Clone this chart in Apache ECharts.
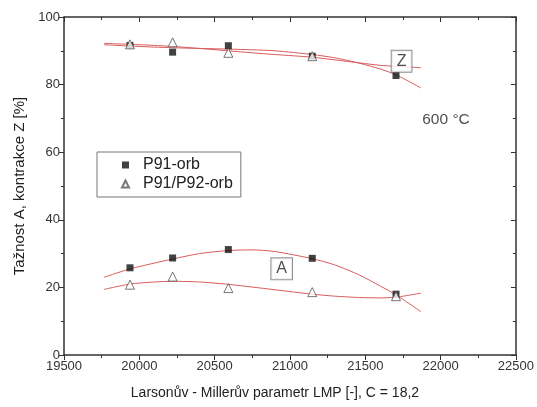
<!DOCTYPE html>
<html><head><meta charset="utf-8">
<script src="https://cdn.jsdelivr.net/npm/echarts@6/dist/echarts.min.js"></script>
<style>html,body{margin:0;padding:0;background:#fff}#c{width:537px;height:407px}</style>
</head><body><div id="c"></div>
<script>
// LMP values of measured points
const lmp = [19938, 20221, 20591, 21148, 21704];
// P91-orb
const p91Z = [91.6, 89.6, 91.5, 88.4, 82.7];
const p91A = [25.8, 28.7, 31.2, 28.6, 18.0];
// P91/P92-orb
const p92Zx = [19938, 20221, 20591, 21148];
const p92Z = [91.9, 92.5, 89.4, 88.4];
const p92A = [20.8, 23.2, 19.8, 18.6, 17.4];
// fitted curves
const fitX  = [19765, 19940, 20100, 20221, 20400, 20591, 20750, 20900, 21148, 21300, 21464, 21600, 21704, 21870];
const fitZ1 = [91.8, 91.4, 91.1, 90.9, 90.7, 90.5, 90.3, 90.0, 88.9, 87.9, 86.3, 84.6, 82.9, 79.0];
const fitZ2 = [92.2, 91.9, 91.6, 91.3, 90.7, 90.0, 89.4, 88.9, 88.1, 87.3, 86.4, 85.7, 85.4, 85.0];
const fitA1 = [23.0, 25.5, 27.2, 28.4, 30.0, 30.9, 31.1, 30.6, 28.5, 26.6, 23.6, 20.4, 17.8, 12.8];
const fitA2 = [19.4, 21.0, 21.6, 21.8, 21.6, 20.9, 20.1, 19.3, 18.0, 17.4, 17.0, 16.9, 17.1, 18.3];
const notes = [[21741, 86.9, 'Z'], [20945, 25.5, 'A']];
const tempNote = [[22036, 69.5, '600 °C']];

const zip = (xs, ys) => xs.map((x, i) => [x, ys[i]]);
const fontFam = 'Liberation Sans, Arial, sans-serif';
const axisCol = '#333';
const fitCol = '#d85a5a';

const chart = echarts.init(document.getElementById('c'));
const mkX = (pos, inside, labels) => ({
  type: 'value', min: 19500, max: 22500, interval: 500, position: pos,
  axisLine: {show: true, onZero: false, lineStyle: {color: axisCol, width: 1.5}},
  axisTick: {show: true, inside: inside, length: 5, lineStyle: {color: axisCol}},
  minorTick: {show: true, splitNumber: 2, length: 3, lineStyle: {color: axisCol}},
  splitLine: {show: false},
  axisLabel: labels ? {fontSize: 13, color: '#333', margin: 5, fontFamily: fontFam,
    formatter: v => String(v)} : {show: false}
});
const mkY = (pos, inside, labels) => ({
  type: 'value', min: 0, max: 100, interval: 20, position: pos,
  axisLine: {show: true, onZero: false, lineStyle: {color: axisCol, width: 1.5}},
  axisTick: {show: true, inside: inside, length: 5, lineStyle: {color: axisCol}},
  minorTick: {show: true, splitNumber: 2, length: 3, lineStyle: {color: axisCol}},
  splitLine: {show: false},
  axisLabel: labels ? {fontSize: 13, color: '#333', margin: 4, fontFamily: fontFam} : {show: false}
});
const fit = (ys) => ({
  type: 'line', data: zip(fitX, ys), smooth: 0.25, showSymbol: false, symbol: 'none',
  lineStyle: {color: fitCol, width: 1}, silent: true, z: 1
});
const xb = Object.assign(mkX('bottom', false, true), {
  name: 'Larsonův - Millerův parametr LMP [-], C = 18,2',
  nameLocation: 'middle', nameGap: 31,
  nameTextStyle: {fontSize: 14, color: '#222', fontFamily: fontFam, padding: [0, 30, 0, 0]}
});
const yl = Object.assign(mkY('left', false, true), {
  name: 'Tažnost A, kontrakce Z [%]',
  nameLocation: 'middle', nameGap: 36,
  nameTextStyle: {fontSize: 15, color: '#222', fontFamily: fontFam}
});
chart.setOption({
  animation: false,
  textStyle: {fontFamily: fontFam},
  grid: {left: 64, right: 20, top: 17, bottom: 52},
  xAxis: [xb, mkX('top', true, false)],
  yAxis: [yl, mkY('right', true, false)],
  legend: {
    data: ['P91-orb', 'P91/P92-orb'],
    orient: 'vertical', left: 97, top: 152,
    borderColor: '#777', borderWidth: 1, borderRadius: 0,
    padding: [5, 8, 5, 24], itemGap: 3,
    itemWidth: 7, itemHeight: 7,
    textStyle: {fontSize: 16, color: '#222', fontFamily: fontFam, padding: [0, 0, 0, 9]}
  },
  series: [
    fit(fitZ1), fit(fitZ2), fit(fitA1), fit(fitA2),
    {name: 'P91-orb', type: 'scatter', symbol: 'rect', symbolSize: 7,
     itemStyle: {color: '#111'}, data: zip(lmp, p91Z).concat(zip(lmp, p91A)), z: 3},
    {name: 'P91/P92-orb', type: 'scatter', symbol: 'triangle', symbolSize: 9,
     itemStyle: {color: '#fff', borderColor: '#555', borderWidth: 1},
     data: zip(p92Zx, p92Z).concat(zip(lmp, p92A)), z: 4},
    {name: 'notes', type: 'scatter', symbolSize: 0, data: notes, z: 5,
     label: {show: true, position: 'inside', formatter: p => p.data[2],
       fontSize: 16, color: '#222', backgroundColor: '#fff', borderColor: '#777',
       borderWidth: 1, padding: [3, 5, 2, 5], fontFamily: fontFam}},
    {name: 'temp', type: 'scatter', symbolSize: 0, data: tempNote, z: 5,
     label: {show: true, position: 'inside', formatter: p => p.data[2],
       fontSize: 15.5, color: '#222', fontFamily: fontFam}}
  ]
});
</script></body></html>
